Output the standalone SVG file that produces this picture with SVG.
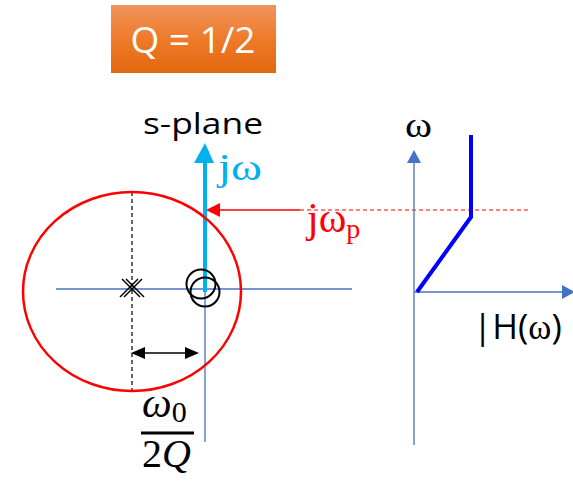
<svg xmlns="http://www.w3.org/2000/svg" width="573" height="481" viewBox="0 0 573 481">
<defs>
<linearGradient id="og" x1="0" y1="0" x2="0" y2="1">
<stop offset="0" stop-color="#F1955C"/>
<stop offset="0.5" stop-color="#EE7A2A"/>
<stop offset="1" stop-color="#E2680E"/>
</linearGradient>
</defs>
<style>
.ax{stroke:#4472C4;stroke-width:1.3;fill:none}
.sans{font-family:"Open Sans","Liberation Sans",sans-serif}
.serif{font-family:"Liberation Serif","DejaVu Serif",serif}
</style>
<rect width="573" height="481" fill="#fff"/>
<g id="title">
<rect x="111" y="5" width="165" height="68" fill="url(#og)"/>
<text x="193" y="53" class="sans" font-size="37" fill="#fff" text-anchor="middle">Q = 1/2</text>
</g>
<g id="connectors">
<line class="ax" x1="56" y1="289" x2="352" y2="289"/>
<line class="ax" x1="205" y1="160" x2="205" y2="442"/>
<line x1="132" y1="192" x2="132" y2="391" stroke="#000" stroke-width="1.2" stroke-dasharray="4,3"/>
<line x1="205" y1="292" x2="205" y2="160" stroke="#00B0F0" stroke-width="4"/>
<path d="M194,163 L205,143 L214,163 z" fill="#00B0F0"/>
<line x1="218" y1="210" x2="300" y2="210" stroke="#FF0000" stroke-width="1.5"/>
<path d="M206,210 L220,203 L220,217 z" fill="#FF0000"/>
<line x1="300" y1="210" x2="528" y2="210" stroke="#FF0000" stroke-width="1.2" stroke-dasharray="4,3"/>
<line x1="145" y1="353" x2="186" y2="353" stroke="#000" stroke-width="1.5"/>
<path d="M131,353 L145,347 L145,359 z" fill="#000"/>
<path d="M199,353 L185,347 L185,359 z" fill="#000"/>
<line class="ax" x1="414" y1="445" x2="414" y2="162"/>
<path d="M407,163 L414,150 L421,163 z" fill="#4472C4"/>
<line class="ax" x1="414" y1="292" x2="562" y2="292"/>
<path d="M562,285 L575,292 L562,299 z" fill="#4472C4"/>
<polyline points="417,292 471,217 471,135" fill="none" stroke="#0000FF" stroke-width="4"/>
</g>
<g id="splane">
<ellipse cx="132" cy="291.5" rx="109" ry="99.5" fill="none" stroke="#FF0000" stroke-width="2.5"/>
<g stroke="#000" stroke-width="1.5">
<line x1="122" y1="279" x2="140" y2="297"/>
<line x1="124" y1="297" x2="142" y2="279"/>
<line x1="126" y1="279" x2="144" y2="297"/>
<line x1="120" y1="297" x2="138" y2="279"/>
</g>
<circle cx="201" cy="284" r="14.5" fill="none" stroke="#000" stroke-width="2"/>
<circle cx="205" cy="292" r="14.5" fill="none" stroke="#000" stroke-width="2"/>
<text x="143" y="134" class="sans" font-size="30" fill="#000" textLength="120" lengthAdjust="spacingAndGlyphs">s-plane</text>
<text x="218" y="180" class="serif" font-size="38" fill="#00B0F0" textLength="44" lengthAdjust="spacingAndGlyphs">jω</text>
<text x="307" y="232" class="serif" font-size="42" fill="#FF0000">jω<tspan font-size="28" dy="6">p</tspan></text>
</g>
<g id="fraction">
<text x="142" y="417" class="serif" font-size="42" font-style="italic" fill="#000">ω<tspan font-style="normal" font-size="30" dy="5">0</tspan></text>
<rect x="141" y="431.5" width="53" height="3" fill="#000"/>
<text x="142" y="467" class="serif" font-size="40" fill="#000">2<tspan font-style="italic">Q</tspan></text>
</g>
<g id="bode">
<text x="405" y="137" class="serif" font-size="36" fill="#000" textLength="27" lengthAdjust="spacingAndGlyphs">ω</text>
<text x="473" y="339" class="sans" font-size="35" fill="#000">|H(<tspan class="serif">ω</tspan>)</text>
</g>
</svg>
